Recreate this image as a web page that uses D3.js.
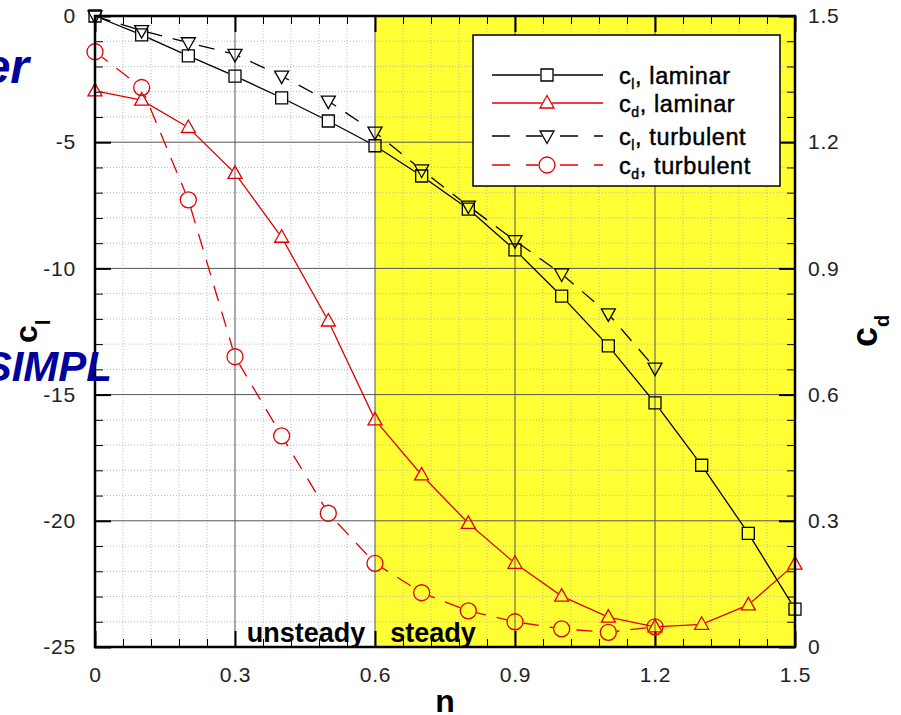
<!DOCTYPE html>
<html>
<head>
<meta charset="utf-8">
<script src="https://cdn.jsdelivr.net/npm/d3@7"></script>
<style>
  body { margin: 0; background: #fff; }
  svg text { font-family: "Liberation Sans", Arial, Helvetica, sans-serif; }
</style>
</head>
<body>
<div id="chart"></div>
<script>
// values
const nValues = [0, 0.1, 0.2, 0.3, 0.4, 0.5, 0.6, 0.7, 0.8, 0.9, 1.0, 1.1, 1.2, 1.3, 1.4, 1.5];
const clLaminar = [0, -0.75, -1.58, -2.38, -3.24, -4.16, -5.14, -6.34, -7.65, -9.27, -11.1, -13.07, -15.33, -17.8, -20.5, -23.5];
const cdLaminar = [1.322, 1.30, 1.235, 1.126, 0.974, 0.775, 0.54, 0.409, 0.294, 0.199, 0.121, 0.071, 0.048, 0.054, 0.10, 0.197];
const nTurbulent = [0, 0.1, 0.2, 0.3, 0.4, 0.5, 0.6, 0.7, 0.8, 0.9, 1.0, 1.1, 1.2];
const clTurbulent = [0, -0.58, -1.06, -1.52, -2.38, -3.37, -4.6, -6.1, -7.53, -8.9, -10.22, -11.8, -13.95];
const cdTurbulent = [1.415, 1.33, 1.063, 0.69, 0.502, 0.318, 0.199, 0.129, 0.086, 0.06, 0.043, 0.035, 0.048];

const nTicks = [0, 0.3, 0.6, 0.9, 1.2, 1.5];
const clTicks = [0, -5, -10, -15, -20, -25];
const cdTicks = [0, 0.3, 0.6, 0.9, 1.2, 1.5];
const steadyFrom = 0.6;

const width = 901, height = 715;
const plotLeft = 95, plotRight = 795, plotTop = 16, plotBottom = 647;
const RED = "#e00000";

const svg = d3.select("#chart").append("svg")
    .attr("width", width)
    .attr("height", height);

const x = d3.scaleLinear().domain([0, 1.5]).range([plotLeft, plotRight]);
const yCl = d3.scaleLinear().domain([-25, 0]).range([plotBottom, plotTop]);
const yCd = d3.scaleLinear().domain([0, 1.5]).range([plotBottom, plotTop]);

// minor positions: 5 subdivisions per major step
const xMinor = d3.range(0, 1.5001, 0.06).filter(v => Math.abs(v / 0.3 - Math.round(v / 0.3)) > 0.01);
const yMinor = d3.range(-25, 0.001, 1).filter(v => v % 5 !== 0);

// steady region
svg.append("rect")
    .attr("x", x(steadyFrom)).attr("y", plotTop)
    .attr("width", x(1.5) - x(steadyFrom)).attr("height", plotBottom - plotTop)
    .attr("fill", "#ffff33");

// grid
const grid = svg.append("g");
grid.selectAll(".vmin").data(xMinor).enter().append("line")
    .attr("x1", d => x(d)).attr("x2", d => x(d)).attr("y1", plotTop).attr("y2", plotBottom)
    .attr("stroke", "#b8b8b8").attr("stroke-dasharray", "1,2");
grid.selectAll(".hmin").data(yMinor).enter().append("line")
    .attr("y1", d => yCl(d)).attr("y2", d => yCl(d)).attr("x1", plotLeft).attr("x2", plotRight)
    .attr("stroke", "#b8b8b8").attr("stroke-dasharray", "1,2");
grid.selectAll(".vmaj").data(nTicks).enter().append("line")
    .attr("x1", d => x(d)).attr("x2", d => x(d)).attr("y1", plotTop).attr("y2", plotBottom)
    .attr("stroke", "#555").attr("stroke-width", 1);
grid.selectAll(".hmaj").data(clTicks).enter().append("line")
    .attr("y1", d => yCl(d)).attr("y2", d => yCl(d)).attr("x1", plotLeft).attr("x2", plotRight)
    .attr("stroke", "#555").attr("stroke-width", 1);

// axes with inward ticks
function styleAxis(g, w) {
    g.select(".domain").remove();
    g.selectAll(".tick line").attr("stroke", "#000").attr("stroke-width", w);
    g.selectAll(".tick text").attr("font-size", 21).attr("letter-spacing", 0.8).attr("fill", "#222");
}
svg.append("g").attr("transform", `translate(0,${plotBottom})`)
    .call(d3.axisBottom(x).tickValues(nTicks).tickSize(-16).tickPadding(20).tickFormat(d => String(d)))
    .call(g => styleAxis(g, 2));
svg.append("g").attr("transform", `translate(0,${plotTop})`)
    .call(d3.axisTop(x).tickValues(nTicks).tickSize(-16).tickFormat(""))
    .call(g => styleAxis(g, 2));
svg.append("g").attr("transform", `translate(${plotLeft},0)`)
    .call(d3.axisLeft(yCl).tickValues(clTicks).tickSize(-16).tickPadding(19).tickFormat(d => String(d)))
    .call(g => styleAxis(g, 2));
svg.append("g").attr("transform", `translate(${plotRight},0)`)
    .call(d3.axisRight(yCd).tickValues(cdTicks).tickSize(-16).tickPadding(13).tickFormat(d => String(d)))
    .call(g => styleAxis(g, 2));
svg.append("g").attr("transform", `translate(0,${plotBottom})`)
    .call(d3.axisBottom(x).tickValues(xMinor).tickSize(-8).tickFormat(""))
    .call(g => styleAxis(g, 1));
svg.append("g").attr("transform", `translate(0,${plotTop})`)
    .call(d3.axisTop(x).tickValues(xMinor).tickSize(-8).tickFormat(""))
    .call(g => styleAxis(g, 1));
svg.append("g").attr("transform", `translate(${plotLeft},0)`)
    .call(d3.axisLeft(yCl).tickValues(yMinor).tickSize(-8).tickFormat(""))
    .call(g => styleAxis(g, 1));
svg.append("g").attr("transform", `translate(${plotRight},0)`)
    .call(d3.axisRight(yCl).tickValues(yMinor).tickSize(-8).tickFormat(""))
    .call(g => styleAxis(g, 1));

// markers
function shapePath(shape) {
    if (shape === "square") return "M-6,-6H6V6H-6Z";
    if (shape === "up") return "M0,-7.5L7,5H-7Z";
    if (shape === "down") return "M0,7.5L7,-5H-7Z";
    const p = d3.path();
    p.arc(0, 0, 8, 0, 2 * Math.PI);
    p.closePath();
    return p.toString();
}

const series = [
    { id: "clLam", n: nValues, v: clLaminar, y: yCl, color: "#000", dash: null, shape: "square", sub: "l", label: ", laminar" },
    { id: "cdLam", n: nValues, v: cdLaminar, y: yCd, color: RED, dash: null, shape: "up", sub: "d", label: ", laminar" },
    { id: "clTur", n: nTurbulent, v: clTurbulent, y: yCl, color: "#000", dash: "16,11", shape: "down", sub: "l", label: ", turbulent" },
    { id: "cdTur", n: nTurbulent, v: cdTurbulent, y: yCd, color: RED, dash: "16,11", shape: "circle", sub: "d", label: ", turbulent" }
];

const defs = svg.append("defs");
const plot = svg.append("g");

series.forEach(s => {
    const pts = s.n.map((n, i) => [x(n), s.y(s.v[i])]);

    // line is hidden behind each marker
    const mask = defs.append("mask").attr("id", "m-" + s.id)
        .attr("maskUnits", "userSpaceOnUse")
        .attr("x", 0).attr("y", 0).attr("width", width).attr("height", height);
    mask.append("rect").attr("width", width).attr("height", height).attr("fill", "#fff");
    mask.selectAll("path").data(pts).enter().append("path")
        .attr("d", shapePath(s.shape))
        .attr("transform", d => `translate(${d[0]},${d[1]})`)
        .attr("fill", "#000").attr("stroke", "#000").attr("stroke-width", 1.4);

    plot.append("path")
        .datum(pts)
        .attr("d", d3.line())
        .attr("fill", "none")
        .attr("stroke", s.color)
        .attr("stroke-width", 1.3)
        .attr("stroke-dasharray", s.dash)
        .attr("mask", `url(#m-${s.id})`);

    plot.selectAll(".mk-" + s.id).data(pts).enter().append("path")
        .attr("d", shapePath(s.shape))
        .attr("transform", d => `translate(${d[0]},${d[1]})`)
        .attr("fill", "none")
        .attr("stroke", s.color)
        .attr("stroke-width", 1.3);
});

// frame
svg.append("rect")
    .attr("x", plotLeft).attr("y", plotTop)
    .attr("width", plotRight - plotLeft).attr("height", plotBottom - plotTop)
    .attr("fill", "none").attr("stroke", "#000").attr("stroke-width", 2.5);

// region labels
svg.append("text").attr("x", 306).attr("y", 642).attr("text-anchor", "middle")
    .attr("font-size", 27).attr("font-weight", "bold").text("unsteady");
svg.append("text").attr("x", 433).attr("y", 642).attr("text-anchor", "middle")
    .attr("font-size", 27).attr("font-weight", "bold").text("steady");

// legend
const legend = svg.append("g");
legend.append("rect")
    .attr("x", 473).attr("y", 35).attr("width", 307).attr("height", 151)
    .attr("fill", "#fff").attr("stroke", "#000").attr("stroke-width", 1.5);
const lineY = [75, 103, 136, 165];
series.forEach((s, i) => {
    const ly = lineY[i];
    const mask = defs.append("mask").attr("id", "lm-" + s.id)
        .attr("maskUnits", "userSpaceOnUse")
        .attr("x", 0).attr("y", 0).attr("width", width).attr("height", height);
    mask.append("rect").attr("width", width).attr("height", height).attr("fill", "#fff");
    mask.append("path").attr("d", shapePath(s.shape))
        .attr("transform", `translate(547,${ly})`)
        .attr("fill", "#000").attr("stroke", "#000").attr("stroke-width", 1.4);
    legend.append("line")
        .attr("x1", 492).attr("x2", 603).attr("y1", ly).attr("y2", ly)
        .attr("stroke", s.color).attr("stroke-width", 1.3)
        .attr("stroke-dasharray", s.dash ? "18,16" : null)
        .attr("mask", `url(#lm-${s.id})`);
    legend.append("path").attr("d", shapePath(s.shape))
        .attr("transform", `translate(547,${ly})`)
        .attr("fill", "none").attr("stroke", s.color).attr("stroke-width", 1.3);
    const t = legend.append("text")
        .attr("x", 619).attr("y", ly + 9)
        .attr("font-size", 23.5).attr("letter-spacing", 0.6).attr("fill", "#000")
        .attr("stroke", "#000").attr("stroke-width", 0.45);
    t.append("tspan").text("c");
    t.append("tspan").attr("font-size", 14).attr("dy", 5).text(s.sub);
    t.append("tspan").attr("dy", -5).text(s.label);
});

// axis titles
svg.append("text").attr("x", 445).attr("y", 712).attr("text-anchor", "middle")
    .attr("font-size", 32).attr("font-weight", "bold").text("n");

const clTitle = svg.append("text")
    .attr("transform", "translate(37,343) rotate(-90)")
    .attr("font-size", 32).attr("font-weight", "bold");
clTitle.append("tspan").text("c");
clTitle.append("tspan").attr("font-size", 20).attr("dy", 13).text("l");

const cdTitle = svg.append("text")
    .attr("transform", "translate(877,347) rotate(-90)")
    .attr("font-size", 36).attr("font-weight", "bold");
cdTitle.append("tspan").text("c");
cdTitle.append("tspan").attr("font-size", 20).attr("dy", 12).text("d");

// slide text cut off at the left edge
svg.append("text").attr("x", 29).attr("y", 83).attr("text-anchor", "end")
    .attr("font-size", 48).attr("font-weight", "bold").attr("font-style", "italic")
    .attr("fill", "#00009c").text("er");
svg.append("text").attr("x", 112).attr("y", 381).attr("text-anchor", "end")
    .attr("font-size", 42).attr("font-weight", "bold").attr("font-style", "italic")
    .attr("fill", "#00009c").text("SIMPL");
</script>
</body>
</html>
